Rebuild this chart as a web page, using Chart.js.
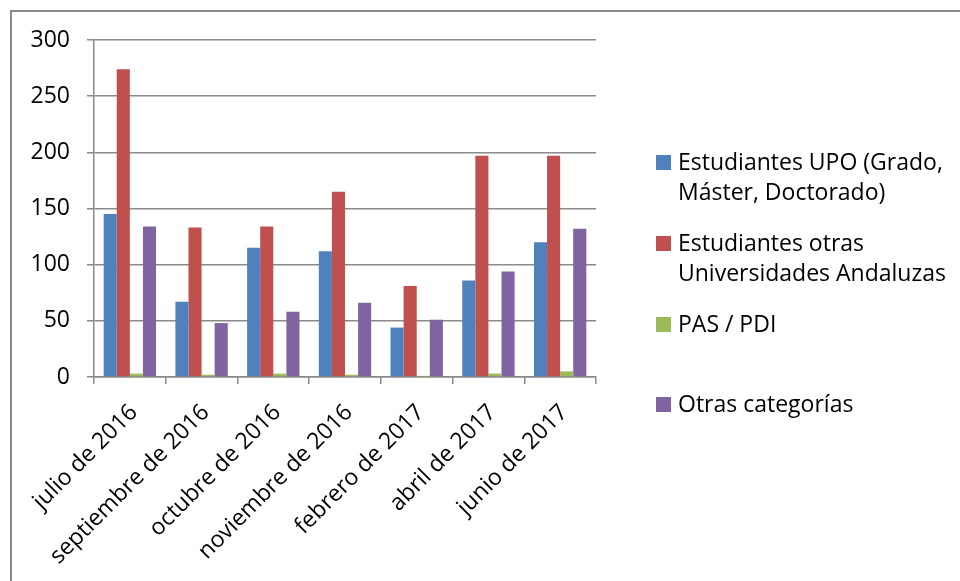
<!DOCTYPE html>
<html>
<head>
<meta charset="utf-8">
<script src="https://cdn.jsdelivr.net/npm/chart.js@4"></script>
<style>
  html, body { margin:0; padding:0; background:#fff; }
  body { width:960px; height:581px; position:relative; overflow:hidden; font-family: 'Open Sans', Lato, sans-serif; }
  #frame { position:absolute; left:10px; top:10px; right:-5px; bottom:-5px; border-left:2px solid #8a8a8a; border-top:2px solid #8a8a8a; }
  #wrap { position:absolute; left:0; top:0; width:960px; height:581px; }
  #legend { position:absolute; left:656px; top:0; width:300px; }
  .item { position:absolute; left:0; width:300px; }
  .swatch { position:absolute; left:0; top:0; width:15px; height:15px; }
  .txt { position:absolute; left:22px; top:-9px; font-size:23px; line-height:30px; color:#000; white-space:nowrap; }
</style>
</head>
<body>
<div id="frame"></div>
<div id="wrap"><canvas id="chart" width="960" height="581"></canvas></div>
<div id="legend"></div>
<script>
  // Datos
  const months = ['julio de 2016','septiembre de 2016','octubre de 2016','noviembre de 2016','febrero de 2017','abril de 2017','junio de 2017'];
  const seriesNames = [['Estudiantes UPO (Grado,','Máster, Doctorado)'], ['Estudiantes otras','Universidades Andaluzas'], ['PAS / PDI'], ['Otras categorías']];
  const upo = [145, 67, 115, 112, 44, 86, 120];
  const otrasUniv = [274, 133, 134, 165, 81, 197, 197];
  const pasPdi = [3, 2, 3, 2, 1, 3, 5];
  const otrasCat = [134, 48, 58, 66, 51, 94, 132];
  const yTicks = [0, 50, 100, 150, 200, 250, 300];

  const colors = ['#4F81BD', '#C0504D', '#9BBB59', '#8064A2'];
  const values = [upo, otrasUniv, pasPdi, otrasCat];
  const gridColor = '#8a8a8a';
  const font = { family: "'Open Sans', Lato, sans-serif", size: 23 };

  const chart = new Chart(document.getElementById('chart').getContext('2d'), {
    type: 'bar',
    data: {
      labels: months,
      datasets: values.map((v, i) => ({
        label: seriesNames[i].join(' '),
        data: v,
        backgroundColor: colors[i],
        borderWidth: 0,
        categoryPercentage: 0.73,
        barPercentage: 1
      }))
    },
    options: {
      responsive: false,
      animation: false,
      layout: { padding: { left: 0, right: 364, top: 40, bottom: 0 } },
      plugins: { legend: { display: false }, tooltip: { enabled: false } },
      scales: {
        x: {
          grid: { display: true, drawOnChartArea: false, drawTicks: true, tickLength: 7, color: gridColor, lineWidth: 1.5, offset: true },
          border: { color: gridColor, width: 1.5 },
          ticks: { color: '#000', font: font, minRotation: 45, maxRotation: 45, padding: 15, labelOffset: 4, autoSkip: false },
          afterFit: s => { s.height = 204; }
        },
        y: {
          min: 0, max: 300,
          afterBuildTicks: s => { s.ticks = yTicks.map(v => ({ value: v })); },
          grid: { color: gridColor, lineWidth: 1.5, tickLength: 7 },
          border: { color: gridColor, width: 1.5 },
          ticks: { color: '#000', font: font, padding: 17 },
          afterFit: s => { s.width = 94; }
        }
      }
    }
  });

  // Leyenda
  const legend = document.getElementById('legend');
  const tops = [155, 236, 317, 397];
  seriesNames.forEach((lines, i) => {
    const item = document.createElement('div');
    item.className = 'item';
    item.style.top = tops[i] + 'px';
    item.innerHTML = `<div class="swatch" style="background:${colors[i]}"></div><div class="txt">${lines.join('<br>')}</div>`;
    legend.appendChild(item);
  });
</script>
</body>
</html>
